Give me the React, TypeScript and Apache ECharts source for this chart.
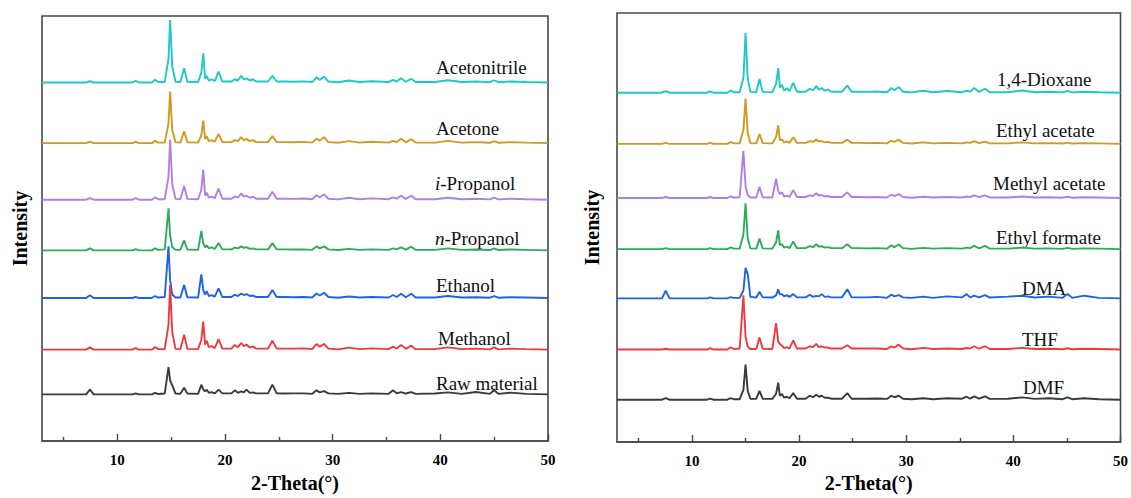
import React, { useEffect, useRef } from "react";
import * as echarts from "echarts";

// 2-Theta sampling positions (degrees)
const leftTheta = [
  3, 7.1, 7.45, 7.8,
  11.4, 11.7, 12.0,
  13.2, 13.5, 13.8,
  14.4, 14.75, 14.9, 15.1, 15.4,
  15.85, 16.2, 16.5,
  17.5, 17.8, 17.98, 18.15, 18.3, 18.5, 18.75, 19.05, 19.4, 19.75,
  20.6, 20.9, 21.2, 21.5, 21.75, 22.0, 22.3, 22.6, 22.9,
  24.0, 24.4, 24.8,
  25.6, 26.3, 27.3,
  28.1, 28.5, 28.8, 29.2, 29.6,
  30.5, 31.5, 32.5, 33.6,
  35.2, 35.6, 35.95, 36.35, 36.8, 37.3, 37.7,
  39.5, 40.7, 42.0, 43.3,
  44.6, 45.0, 45.4,
  46.5, 48, 50,
];

const rightTheta = [
  3, 7.2, 7.55, 7.9,
  11.4, 11.7, 12.0,
  13.3, 13.6, 13.9,
  14.45, 14.8, 15.0, 15.2, 15.45,
  16.0, 16.3, 16.6,
  17.5, 17.85, 18.05, 18.2, 18.4, 18.6, 18.85, 19.1, 19.45, 19.8,
  20.6, 21.0, 21.3, 21.6, 21.85, 22.1, 22.4, 22.7, 23.0,
  24.0, 24.5, 24.9,
  25.6, 26.3, 27.3,
  28.2, 28.6, 28.9, 29.3, 29.7,
  30.5, 31.6, 32.5, 33.8,
  35.2, 35.65, 35.95, 36.35, 36.8, 37.35, 37.8,
  39.5, 40.8, 42.0, 43.3,
  44.6, 45.05, 45.5,
  46.6, 48, 50,
];

// Left panel intensities (a.u.) at leftTheta
const acetonitrile = [
  0, 0, 1.3, 0,
  0, 1.7, 0,
  0, 2.7, 0.5,
  0.5, 24, 63, 16, 0.8,
  0.5, 14.3, 0.8,
  0.5, 10, 29.3, 4, 6.7, 2, 3.3, 1.5, 11, 1,
  1, 3.3, 2, 6.7, 3, 4.3, 2, 3.3, 1,
  1, 6.7, 1,
  1, 0.8, 1.2,
  0.5, 5.3, 2.5, 6, 1,
  0.3, 2, 0.5, 1.3,
  0.5, 2.7, 1, 4.3, 0.8, 3.7, 0.5,
  0.5, 2.3, 0.5, 1,
  0.3, 2.3, 0.3,
  1, 0.5, 0,
];
const acetone = [
  0, 0, 1.5, 0,
  0, 1.5, 0,
  0, 2.3, 0.5,
  0.5, 20, 52, 13, 0.8,
  0.5, 12, 0.8,
  0.5, 8, 22.7, 4, 7, 2, 3, 1.5, 9.3, 1,
  1, 3, 2, 6, 3, 4, 2, 3, 1,
  1, 7, 1,
  1, 0.8, 1.2,
  0.5, 4.5, 2.5, 6, 1,
  0.3, 2, 0.5, 1.3,
  0.5, 2.3, 1, 4.3, 0.8, 4, 0.5,
  0.5, 2.3, 0.5, 1,
  0.3, 2, 0.3,
  1, 0.5, 0,
];
const iPropanol = [
  0, 0, 1.5, 0,
  0, 1.5, 0,
  0, 2.3, 0.5,
  0.5, 23, 60.3, 15, 0.8,
  0.5, 13.7, 0.8,
  0.5, 10, 30.3, 4, 7, 2, 3, 1.5, 11.3, 1,
  1, 3.3, 2, 6.3, 3, 4, 2, 3, 1,
  1, 8, 1,
  1, 0.8, 1.2,
  0.5, 4.5, 2.5, 5.3, 1,
  0.3, 2, 0.5, 1.3,
  0.5, 2.3, 1, 4, 0.8, 4, 0.5,
  0.5, 2, 0.5, 1,
  0.3, 2, 0.3,
  1, 0.5, 0,
];
const nPropanol = [
  0, 0, 2, 0,
  0, 1.2, 0,
  0, 2, 0.5,
  1, 42.3, 15, 3, 0.5,
  0.5, 10, 0.8,
  0.5, 19.7, 7, 3, 5, 2, 3, 1.5, 7.3, 1,
  1, 2.7, 2, 4, 2.5, 3.3, 1.5, 2, 1,
  1, 7.3, 1,
  1, 0.8, 1,
  0.5, 4, 2, 4, 1,
  0.3, 1.5, 0.5, 1,
  0.5, 2, 1, 3, 0.8, 3.7, 0.5,
  0.5, 2, 0.5, 0.8,
  0.3, 2, 0.3,
  0.8, 0.5, 0,
];
const ethanol = [
  0, 0, 2.7, 0,
  0, 1.2, 0,
  0, 2, 0.5,
  1, 52, 18, 3.5, 0.5,
  0.5, 13, 0.8,
  0.5, 23.7, 8, 3.5, 7, 2, 3, 1.5, 9.7, 1,
  1, 3.3, 2, 4.5, 3, 4, 2, 2.5, 1,
  1, 8, 1,
  1, 0.8, 1,
  0.5, 4.5, 2.5, 5.3, 1,
  0.3, 1.5, 0.5, 1,
  0.5, 3, 1, 4.3, 0.8, 4.3, 0.5,
  0.5, 2, 0.5, 0.8,
  0.3, 2, 0.3,
  0.8, 0.5, 0,
];
const methanol = [
  0, 0, 2.3, 0,
  0, 1.5, 0,
  0, 2.7, 0.5,
  0.5, 25, 65, 17, 0.8,
  0.5, 15, 0.8,
  0.5, 10, 28.3, 5, 9, 2.5, 3.5, 1.5, 10.7, 1,
  1, 4.7, 2.5, 6.7, 3.5, 5, 2, 3.3, 1,
  1, 9, 1,
  1, 1, 1.3,
  0.5, 5.7, 3, 5.7, 1,
  0.3, 2, 0.5, 1.3,
  0.5, 3, 1, 4.7, 0.8, 4, 0.5,
  0.5, 2.3, 0.5, 1,
  0.3, 2.3, 0.3,
  1, 0.5, 0,
];
const rawMaterial = [
  0, 0, 4.7, 0,
  0, 1, 0,
  0, 1.5, 0.3,
  0.8, 27.3, 14, 9, 0.8,
  0.5, 6.7, 0.8,
  0.5, 9.7, 5, 3, 4.7, 1.5, 2.3, 1, 4.7, 1,
  1, 4, 1.5, 3, 2, 4.7, 1.5, 2, 1,
  1, 9.7, 1,
  0.8, 1, 1,
  0.5, 4, 2, 3.3, 1,
  0.5, 1.5, 0.5, 1,
  0.5, 4, 1, 2.3, 0.8, 2.3, 0.5,
  0.8, 2, 0.5, 2.3,
  0.5, 4, 0.5,
  1.7, 0.5, 0,
];

// Right panel intensities (a.u.) at rightTheta
const dioxane = [
  0, 0, 1.7, 0,
  0, 1.3, 0,
  0, 2.3, 0.5,
  0.5, 15, 60.7, 15, 0.8,
  0.5, 14, 0.8,
  0.5, 9, 25, 5, 8, 2, 4.7, 1.5, 10, 1,
  1, 4, 2.5, 6.7, 3, 4.7, 2, 3.3, 1,
  1, 7.3, 1,
  1, 0.8, 1.2,
  0.5, 4.7, 2.5, 5.7, 1,
  0.3, 2, 0.5, 1.7,
  0.5, 2, 1, 4.7, 0.8, 4, 0.5,
  0.5, 2.3, 0.5, 1,
  0.3, 1.7, 0.3,
  1, 0.5, 0,
];
const ethylAcetate = [
  0, 0, 1, 0,
  0, 1, 0,
  0, 1.7, 0.5,
  0.5, 14, 46, 11, 0.8,
  0.5, 10, 0.8,
  0.5, 7, 18.7, 3.5, 4.3, 1.5, 2.5, 1, 6.7, 1,
  1, 2.7, 2, 4.3, 2.5, 2.7, 1.5, 2, 1,
  1, 4.3, 1,
  1, 0.8, 1,
  0.5, 3.3, 2, 4.3, 1,
  0.3, 1.5, 0.5, 1,
  0.5, 1.5, 1, 2.7, 0.8, 2.3, 0.5,
  0.5, 1.5, 0.5, 0.8,
  0.3, 1.2, 0.3,
  0.8, 0.5, 0,
];
const methylAcetate = [
  0, 0, 1, 0,
  0, 1, 0,
  0, 1.7, 0.5,
  0.8, 48, 12, 3, 0.5,
  0.5, 11.3, 0.8,
  0.5, 19.7, 7, 4, 5.7, 1.5, 2.5, 1, 8, 1,
  1, 2.7, 2, 4.7, 2.5, 3, 1.5, 2, 1,
  1, 5.7, 1,
  1, 0.8, 1,
  0.5, 3.3, 2, 4, 1,
  0.3, 1.3, 0.5, 1,
  0.5, 1.5, 1, 2.7, 0.8, 2.7, 0.5,
  0.5, 1.5, 0.5, 0.8,
  0.3, 1.3, 0.3,
  0.8, 0.5, 0,
];
const ethylFormate = [
  0, 0, 1, 0,
  0, 1, 0,
  0, 1.7, 0.5,
  0.5, 15, 46.7, 11, 0.8,
  0.5, 10.7, 0.8,
  0.5, 7, 19, 4, 5, 1.5, 2.5, 1, 7.7, 1,
  1, 3, 2, 5, 2.5, 3, 1.5, 2, 1,
  1, 5, 1,
  1, 0.8, 1,
  0.5, 4, 2, 4.7, 1,
  0.3, 1.3, 0.5, 1,
  0.5, 1.5, 1, 3.3, 0.8, 3.3, 0.5,
  0.5, 1.5, 0.5, 0.8,
  0.3, 1.3, 0.3,
  0.8, 0.5, 0,
];
const dma = [
  0, 0, 7.7, 0,
  0, 1, 0,
  0, 1.3, 0.5,
  0.5, 8, 31, 25, 1.5,
  0.8, 6.7, 1,
  0.8, 3, 9.3, 4, 4.3, 2, 3.3, 1.5, 4.3, 1,
  1, 3.7, 1.5, 2.5, 2, 4.3, 1.5, 2, 1,
  1, 9.3, 1,
  1, 1, 1.5,
  0.5, 3.7, 2, 3.3, 1,
  0.5, 1.7, 0.5, 2,
  1, 4.3, 1, 2.7, 1, 3.3, 0.8,
  1.7, 2.7, 0.8, 1.7,
  0.5, 4.3, 0.5,
  2.7, 0.5, 0,
];
const thf = [
  0, 0, 0.8, 0,
  0, 1.3, 0,
  0, 2.3, 0.5,
  1, 55, 13, 3, 0.5,
  0.5, 12.3, 0.8,
  0.5, 26.7, 8, 5.7, 4, 1.5, 2.5, 1, 9.3, 1,
  1, 3.3, 2.5, 5.7, 2.5, 3.3, 2, 2, 1,
  1, 4.3, 1,
  1, 1, 1,
  0.5, 3.3, 2, 5, 1,
  0.3, 1.7, 0.5, 1,
  0.5, 1.5, 1, 3.3, 0.8, 3.3, 0.5,
  0.5, 1.7, 0.5, 0.8,
  0.3, 1.3, 0.3,
  0.8, 0.5, 0,
];
const dmf = [
  0, 0, 1.7, 0,
  0, 1, 0,
  0, 1.5, 0.5,
  0.5, 10, 35.7, 9, 1,
  0.8, 9, 1,
  0.8, 6, 17.3, 4, 5.7, 2, 3, 1.5, 6.7, 1,
  1, 4, 2.5, 5, 3, 4, 2, 2, 1,
  1, 6.7, 1,
  1, 1, 1.2,
  0.8, 4, 2.5, 4, 1,
  0.5, 1.5, 0.5, 1.5,
  1, 3, 1, 3.3, 1, 3.3, 0.8,
  1, 2.3, 0.8, 1.5,
  0.5, 2.3, 0.5,
  1.5, 0.5, 0,
];

const leftNames = ["Acetonitrile", "Acetone", "i-Propanol", "n-Propanol", "Ethanol", "Methanol", "Raw material"];
const leftSeries = [acetonitrile, acetone, iPropanol, nPropanol, ethanol, methanol, rawMaterial];
const leftOffsets = [361, 300, 243, 192, 144, 92, 47];

const rightNames = ["1,4-Dioxane", "Ethyl acetate", "Methyl acetate", "Ethyl formate", "DMA", "THF", "DMF"];
const rightSeries = [dioxane, ethylAcetate, methylAcetate, ethylFormate, dma, thf, dmf];
const rightOffsets = [355, 303, 248, 196, 146, 94, 43];

const majorTicks = [10, 20, 30, 40, 50];
const minorTicks = [5, 15, 25, 35, 45];

const COLORS = ["#1EC8C8", "#D09A1C", "#B07FE6", "#2EAB5C", "#1F63E0", "#EE3A3F", "#3A3A3A"];
const SERIF = "'Liberation Serif', 'Times New Roman', serif";

// label layout (pixels)
const leftLabelPos = [[436, 67], [436, 128], [435, 183], [435, 238], [436, 285], [438, 338], [436, 383]];
const rightLabelPos = [[997, 79], [996, 130], [993, 183], [996, 237], [1022, 288], [1022, 339], [1023, 387]];

function labelText(name: string) {
  const m = name.match(/^([in])-(.*)$/);
  if (m) return `{it|${m[1]}}{n|-${m[2]}}`;
  return `{n|${name}}`;
}

export default function App() {
  const ref = useRef<HTMLDivElement>(null);
  useEffect(() => {
    if (!ref.current) return;
    const chart = echarts.init(ref.current, undefined, { renderer: "svg" });

    const frameColor = "#474747";
    const makeX = (gridIndex: number, major: boolean) => ({
      type: "value",
      gridIndex,
      position: "bottom",
      min: 3,
      max: 50,
      name: major ? "2-Theta(°)" : "",
      nameLocation: "middle",
      nameGap: gridIndex === 0 ? 32 : 31,
      nameTextStyle: { fontFamily: SERIF, fontSize: 20, fontWeight: "bold", color: "#000" },
      axisLine: { show: major, lineStyle: { color: frameColor, width: 1.6 } },
      axisTick: {
        show: true,
        inside: true,
        length: major ? 7 : 4,
        customValues: major ? majorTicks : minorTicks,
        lineStyle: { color: frameColor, width: 1.4 },
      },
      axisLabel: {
        show: major,
        customValues: majorTicks,
        margin: 11,
        fontFamily: SERIF,
        fontSize: 15,
        fontWeight: "bold",
        color: "#000",
      },
      splitLine: { show: false },
      minorTick: { show: false },
    });
    const makeY = (gridIndex: number, max: number, gap: number) => ({
      type: "value",
      gridIndex,
      min: 0,
      max,
      name: "Intensity",
      nameLocation: "middle",
      nameGap: gap,
      nameTextStyle: { fontFamily: SERIF, fontSize: 20, fontWeight: "bold", color: "#000" },
      axisLine: { show: false },
      axisTick: { show: false },
      axisLabel: { show: false },
      splitLine: { show: false },
    });

    const series: any[] = [];
    leftSeries.forEach((vals, k) => {
      series.push({
        type: "line",
        name: leftNames[k],
        xAxisIndex: 0,
        yAxisIndex: 0,
        symbol: "none",
        lineStyle: { color: COLORS[k], width: 1.9 },
        itemStyle: { color: COLORS[k] },
        data: leftTheta.map((t, i) => [t, leftOffsets[k] + vals[i]]),
      });
    });
    rightSeries.forEach((vals, k) => {
      series.push({
        type: "line",
        name: rightNames[k],
        xAxisIndex: 2,
        yAxisIndex: 1,
        symbol: "none",
        lineStyle: { color: COLORS[k], width: 1.9 },
        itemStyle: { color: COLORS[k] },
        data: rightTheta.map((t, i) => [t, rightOffsets[k] + vals[i]]),
      });
    });

    const rich = {
      n: { fontFamily: SERIF, fontSize: 19, color: "#111" },
      it: { fontFamily: SERIF, fontSize: 19, fontStyle: "italic", color: "#111" },
    };
    const texts: any[] = [];
    const pushLabels = (names: string[], pos: number[][]) => {
      names.forEach((nm, k) => {
        texts.push({
          type: "text",
          x: pos[k][0],
          y: pos[k][1],
          style: { text: labelText(nm), rich, fontFamily: SERIF, fontSize: 19, fill: "#111", verticalAlign: "middle" },
        });
      });
    };
    pushLabels(leftNames, leftLabelPos);
    pushLabels(rightNames, rightLabelPos);

    chart.setOption({
      animation: false,
      backgroundColor: "#fff",
      grid: [
        { left: 42, top: 16, width: 506, height: 428, show: true, borderColor: frameColor, borderWidth: 1.6, backgroundColor: "transparent" },
        { left: 617, top: 13, width: 506, height: 436, show: true, borderColor: frameColor, borderWidth: 1.6, backgroundColor: "transparent" },
      ],
      xAxis: [makeX(0, true), makeX(0, false), makeX(1, true), makeX(1, false)],
      yAxis: [makeY(0, 428, 12), makeY(1, 436, 15)],
      series,
      graphic: texts,
    });
    return () => chart.dispose();
  }, []);
  return <div ref={ref} style={{ position: "fixed", left: 0, top: 0, width: 1131, height: 498 }} />;
}
